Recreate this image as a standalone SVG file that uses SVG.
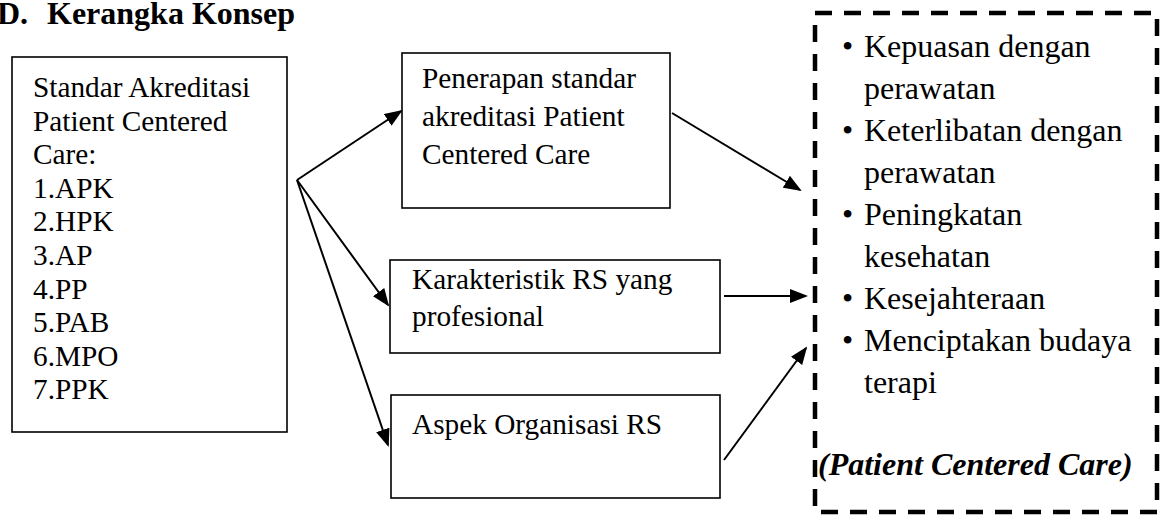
<svg xmlns="http://www.w3.org/2000/svg" width="1168" height="521" viewBox="0 0 1168 521">
<style>
  .box { fill: #fff; stroke: #000; stroke-width: 1.6; }
  .t { font-family: "Liberation Serif", "Times New Roman", serif; font-size: 29.3px; fill: #000; }
  .r { font-family: "Liberation Serif", "Times New Roman", serif; font-size: 32px; fill: #000; }
  .title { font-family: "Liberation Serif", "Times New Roman", serif; font-size: 32px; font-weight: bold; fill: #000; }
  .pcc { font-family: "Liberation Serif", "Times New Roman", serif; font-size: 32px; font-weight: bold; font-style: italic; fill: #000; }
  .conn { stroke: #000; stroke-width: 2; fill: none; marker-end: url(#ah); }
  .dash { fill: none; stroke: #000; stroke-width: 4.5; stroke-dasharray: 17 12; }
</style>
<defs>
  <marker id="ah" markerWidth="9" markerHeight="7" refX="8" refY="3.5" orient="auto" markerUnits="strokeWidth">
    <path d="M0,0 L9,3.5 L0,7 Z" fill="#000"/>
  </marker>
</defs>
<rect width="1168" height="521" fill="#fff"/>
<g id="title">
  <text class="title" x="-3" y="24">D.</text>
  <text class="title" x="47" y="24">Kerangka Konsep</text>
</g>
<g id="node-standar">
  <rect class="box" x="12" y="57" width="275" height="375"/>
  <text class="t" x="33" y="97">Standar Akreditasi</text>
  <text class="t" x="33" y="130.6">Patient Centered</text>
  <text class="t" x="33" y="164.2">Care:</text>
  <text class="t" x="33" y="197.8">1.APK</text>
  <text class="t" x="33" y="231.4">2.HPK</text>
  <text class="t" x="33" y="265">3.AP</text>
  <text class="t" x="33" y="298.6">4.PP</text>
  <text class="t" x="33" y="332.2">5.PAB</text>
  <text class="t" x="33" y="365.8">6.MPO</text>
  <text class="t" x="33" y="399.4">7.PPK</text>
</g>
<g id="node-penerapan">
  <rect class="box" x="402" y="53" width="268" height="155"/>
  <text class="t" x="422" y="88">Penerapan standar</text>
  <text class="t" x="422" y="126">akreditasi Patient</text>
  <text class="t" x="422" y="164">Centered Care</text>
</g>
<g id="node-karakteristik">
  <rect class="box" x="390" y="260" width="330" height="93"/>
  <text class="t" x="412" y="289">Karakteristik RS yang</text>
  <text class="t" x="412" y="326">profesional</text>
</g>
<g id="node-aspek">
  <rect class="box" x="391" y="395" width="329" height="103"/>
  <text class="t" x="412" y="434">Aspek Organisasi RS</text>
</g>
<g id="node-pcc">
  <rect class="dash" x="815" y="13" width="342" height="499"/>
  <text class="r" x="842" y="57">•</text><text class="r" x="864" y="57">Kepuasan dengan</text>
  <text class="r" x="864" y="99">perawatan</text>
  <text class="r" x="842" y="141">•</text><text class="r" x="864" y="141">Keterlibatan dengan</text>
  <text class="r" x="864" y="183">perawatan</text>
  <text class="r" x="842" y="225">•</text><text class="r" x="864" y="225">Peningkatan</text>
  <text class="r" x="864" y="267">kesehatan</text>
  <text class="r" x="842" y="309">•</text><text class="r" x="864" y="309">Kesejahteraan</text>
  <text class="r" x="842" y="351">•</text><text class="r" x="864" y="351">Menciptakan budaya</text>
  <text class="r" x="864" y="393">terapi</text>
  <text class="pcc" x="818" y="475">(Patient Centered Care)</text>
</g>
<g id="connectors">
  <line class="conn" x1="297" y1="180" x2="401" y2="111"/>
  <line class="conn" x1="297" y1="180" x2="388" y2="305"/>
  <line class="conn" x1="297" y1="180" x2="388" y2="445"/>
  <line class="conn" x1="672" y1="113" x2="800" y2="190"/>
  <line class="conn" x1="724" y1="296" x2="806" y2="296"/>
  <line class="conn" x1="724" y1="460" x2="806" y2="348"/>
</g>
</svg>
